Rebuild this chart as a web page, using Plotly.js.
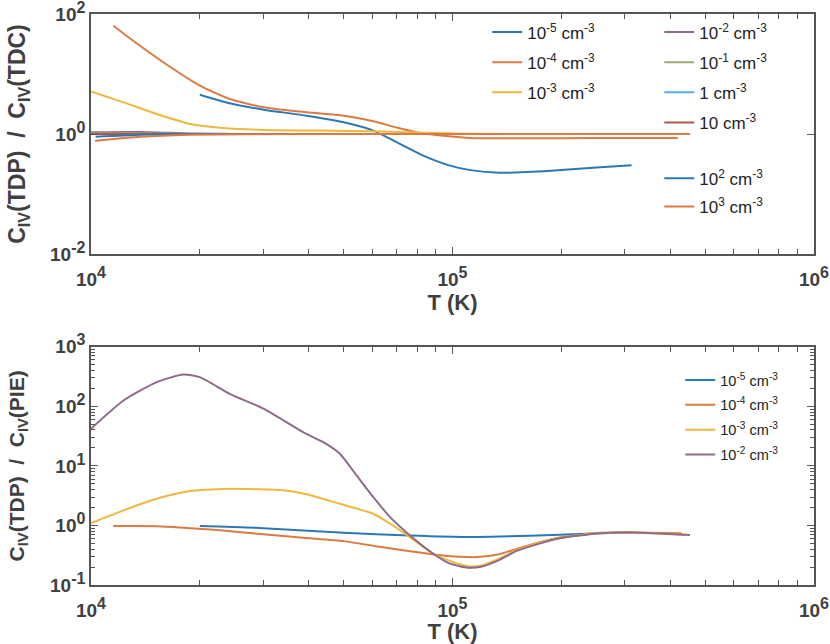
<!DOCTYPE html>
<html>
<head>
<meta charset="utf-8">
<script src="https://cdn.plot.ly/plotly-3.0.1.min.js"></script>
<style>
  html, body { margin: 0; padding: 0; background: #fff; }
  #chart { width: 830px; height: 644px; }
</style>
</head>
<body>
<div id="chart"></div>
<script>
/* ── Data: T (K) and ratio per density ── */

// top panel: C_IV(TDP) / C_IV(TDC)
const tdcT_m5 = [2e4, 2.42e4, 3e4, 3.95e4, 5e4, 6.04e4, 7e4, 8.3e4, 9.84e4, 1.12e5, 1.35e5, 1.6e5, 2e5, 2.5e5, 3.13e5];
const tdcR_m5 = [4.52, 3.25, 2.54, 2.02, 1.57, 1.14, 0.73, 0.435, 0.297, 0.25, 0.226, 0.232, 0.25, 0.277, 0.30];
const tdcT_m4 = [1.153e4, 1.366e4, 1.69e4, 2e4, 2.42e4, 3e4, 3.95e4, 5e4, 6.04e4, 7e4, 8.3e4, 1.12e5, 1.5e5, 2e5, 3e5, 4.2e5];
const tdcR_m4 = [63.8, 29.6, 12.1, 6.4, 3.83, 2.79, 2.3, 2.02, 1.63, 1.29, 1.02, 0.86, 0.85, 0.85, 0.86, 0.86];
const tdcT_m3 = [1.0e4, 1.23e4, 1.52e4, 1.88e4, 2.32e4, 3e4, 4.4e4, 6e4, 8.3e4, 1.1e5, 2e5, 4.4e5];
const tdcR_m3 = [5.1, 3.37, 2.15, 1.47, 1.26, 1.17, 1.14, 1.11, 1.05, 1.01, 1.0, 1.0];
const tdcT_m2 = [1e4, 1.37e4, 1.88e4, 2.6e4, 5e4, 1e5, 2e5, 4.5e5];
const tdcR_m2 = [1.07, 1.08, 1.02, 1.0, 1.0, 1.0, 1.0, 1.0];
const tdcT_m1 = [1e4, 1.5e4, 2e4, 5e4, 1e5, 2e5, 4.5e5];
const tdcR_m1 = [1.03, 1.02, 1.0, 1.0, 1.0, 1.0, 1.0];
const tdcT_0  = [1e4, 2e4, 5e4, 1e5, 2e5, 4.5e5];
const tdcR_0  = [1.0, 1.0, 1.0, 1.0, 1.0, 1.0];
const tdcT_1  = [1e4, 2e4, 5e4, 1e5, 2e5, 4.5e5];
const tdcR_1  = [1.0, 1.0, 1.0, 1.0, 1.0, 1.0];
const tdcT_2  = [1.03e4, 1.37e4, 1.88e4, 2.6e4, 5e4, 1e5, 2e5, 4.5e5];
const tdcR_2  = [0.90, 0.97, 1.0, 1.0, 1.0, 1.0, 1.0, 1.0];
const tdcT_3  = [1.026e4, 1.37e4, 1.88e4, 2.6e4, 5e4, 1e5, 2e5, 4.54e5];
const tdcR_3  = [0.77, 0.90, 0.97, 0.99, 1.0, 1.0, 1.0, 1.0];

// bottom panel: C_IV(TDP) / C_IV(PIE)
const pieT_m5 = [2e4, 3e4, 5e4, 7.6e4, 1.12e5, 1.35e5, 1.98e5, 2.56e5, 3.13e5];
const pieR_m5 = [0.975, 0.90, 0.75, 0.68, 0.64, 0.65, 0.70, 0.74, 0.77];
const pieT_m4 = [1.153e4, 1.52e4, 1.88e4, 2.32e4, 3e4, 3.86e4, 5e4, 6.43e4, 7.63e4, 8.85e4, 1.05e5, 1.17e5, 1.35e5, 1.5e5, 1.75e5, 1.98e5, 2.56e5, 3.16e5, 4.3e5];
const pieR_m4 = [0.975, 0.97, 0.90, 0.82, 0.71, 0.62, 0.545, 0.43, 0.37, 0.326, 0.297, 0.294, 0.33, 0.40, 0.53, 0.63, 0.75, 0.76, 0.74];
const pieT_m3 = [1e4, 1.23e4, 1.52e4, 1.88e4, 2.32e4, 2.87e4, 3.4e4, 3.95e4, 4.88e4, 6.04e4, 6.72e4, 7.46e4, 8.85e4, 1e5, 1.12e5, 1.2e5, 1.35e5, 1.5e5, 1.75e5, 1.98e5, 2.56e5, 3.16e5, 4.4e5];
const pieR_m3 = [1.09, 1.79, 2.8, 3.77, 4.1, 4.05, 3.9, 3.35, 2.31, 1.57, 1.07, 0.70, 0.335, 0.243, 0.205, 0.213, 0.28, 0.38, 0.52, 0.62, 0.745, 0.76, 0.70];
const pieT_m2 = [1e4, 1.23e4, 1.52e4, 1.8e4, 2e4, 2.42e4, 3e4, 3.86e4, 4.39e4, 4.88e4, 5.43e4, 6.04e4, 6.72e4, 7.63e4, 8.85e4, 9.84e4, 1.11e5, 1.2e5, 1.35e5, 1.5e5, 1.75e5, 1.98e5, 2.56e5, 3.16e5, 4.54e5];
const pieR_m2 = [42, 125, 254, 342, 309, 162, 91, 36.8, 25, 16, 6.9, 2.98, 1.38, 0.68, 0.335, 0.228, 0.195, 0.203, 0.265, 0.37, 0.50, 0.61, 0.74, 0.76, 0.69];

const densityLabels = [
  '10<sup>-5</sup> cm<sup>-3</sup>', '10<sup>-4</sup> cm<sup>-3</sup>', '10<sup>-3</sup> cm<sup>-3</sup>',
  '10<sup>-2</sup> cm<sup>-3</sup>', '10<sup>-1</sup> cm<sup>-3</sup>', '1 cm<sup>-3</sup>',
  '10 cm<sup>-3</sup>', '10<sup>2</sup> cm<sup>-3</sup>', '10<sup>3</sup> cm<sup>-3</sup>'
];
const lineColors = ['#2c78b4', '#dc7a42', '#eeb83e', '#8e6a8c', '#9aab78', '#58aee0', '#b0584a', '#2c78b4', '#dc7a42'];

/* ── Axis helpers ─────────────────────────────────────────── */
const AX = '#555555';
const TXT = '#404040';
const FAMILY = 'Liberation Sans, Arial, sans-serif';
const tickFont = { family: FAMILY, size: 19, weight: 'bold', color: TXT };
const pow10 = e => `10<sup><span style="font-size:16px">${e}</span></sup>`;

function minorDecades(lo, hi) {
  const v = [];
  for (let e = lo; e < hi; e++) for (let m = 2; m < 10; m++) v.push(m * Math.pow(10, e));
  return v;
}

function xAxis(anchor) {
  return {
    type: 'log', range: [4, 6], anchor: anchor,
    tickvals: [1e4, 1e5, 1e6], ticktext: [pow10(4), pow10(5), pow10(6)],
    ticks: 'inside', ticklen: 7, tickwidth: 1.2, tickcolor: AX,
    minor: { tickvals: minorDecades(4, 6), ticks: 'inside', ticklen: 5, tickwidth: 1.2, tickcolor: AX },
    showline: true, linecolor: AX, linewidth: 1.6, mirror: 'ticks',
    showgrid: false, zeroline: false, tickfont: tickFont,
    ticklabelstandoff: 7, ticklabeloverflow: 'allow',
    title: { text: 'T (K)', font: { family: FAMILY, size: 22, weight: 'bold', color: TXT }, standoff: 3 }
  };
}

function yAxis(domain, lo, hi, withMinor, titleText, titleSize, standoff) {
  const vals = [];
  for (let e = lo; e <= hi; e += (withMinor ? 1 : 2)) vals.push(Math.pow(10, e));
  const ax = {
    type: 'log', range: [lo, hi], domain: domain,
    tickvals: vals, ticktext: vals.map(v => pow10(Math.round(Math.log10(v)))),
    ticks: 'inside', ticklen: 7, tickwidth: 1.2, tickcolor: AX,
    showline: true, linecolor: AX, linewidth: 1.6, mirror: 'ticks',
    showgrid: false, zeroline: false, tickfont: tickFont,
    ticklabelstandoff: 0, ticklabeloverflow: 'allow',
    title: { text: titleText, font: { family: FAMILY, size: titleSize, weight: 'bold', color: TXT }, standoff: standoff }
  };
  if (withMinor) ax.minor = { tickvals: minorDecades(lo, hi), ticks: 'inside', ticklen: 4, tickwidth: 1.2, tickcolor: AX };
  return ax;
}

/* ── Traces ───────────────────────────────────────────────── */
function curve(T, R, i, xa, ya, legend) {
  return {
    x: T, y: R, xaxis: xa, yaxis: ya,
    type: 'scatter', mode: 'lines',
    name: densityLabels[i], legend: legend,
    legendgroup: legend + '-' + i,
    line: { color: lineColors[i], width: 2, shape: 'spline', smoothing: 0.6 },
    hovertemplate: densityLabels[i] + '<br>T=%{x:.3s} K: %{y:.3g}<extra></extra>'
  };
}

const topSets = [
  [tdcT_m5, tdcR_m5, 'legend'], [tdcT_m4, tdcR_m4, 'legend'], [tdcT_m3, tdcR_m3, 'legend'],
  [tdcT_m2, tdcR_m2, 'legend2'], [tdcT_m1, tdcR_m1, 'legend2'], [tdcT_0, tdcR_0, 'legend2'],
  [tdcT_1, tdcR_1, 'legend2'], [tdcT_2, tdcR_2, 'legend3'], [tdcT_3, tdcR_3, 'legend3']
];
const bottomSets = [[pieT_m5, pieR_m5], [pieT_m4, pieR_m4], [pieT_m3, pieR_m3], [pieT_m2, pieR_m2]];

const traces = [];
topSets.forEach((s, i) => traces.push(curve(s[0], s[1], i, 'x', 'y', s[2])));
bottomSets.forEach((s, i) => traces.push(curve(s[0], s[1], i, 'x2', 'y2', 'legend4')));

/* ── Layout ───────────────────────────────────────────────── */
const sp = '\u00a0';
const legendBase = {
  bgcolor: 'rgba(0,0,0,0)', borderwidth: 0, xanchor: 'left', yanchor: 'top',
  traceorder: 'grouped', tracegroupgap: 5,
  font: { family: FAMILY, size: 17, color: '#222' }
};

const layout = {
  width: 830, height: 644,
  margin: { l: 91, r: 16, t: 14, b: 59 },
  paper_bgcolor: '#fff', plot_bgcolor: '#fff',
  showlegend: true,
  xaxis: xAxis('y'),
  yaxis: yAxis([0.5797, 1], -2, 2, false, `C<sub>IV</sub>(TDP)${sp}${sp}/${sp}${sp}C<sub>IV</sub>(TDC)`, 23, 18),
  xaxis2: xAxis('y2'),
  yaxis2: yAxis([0, 0.4173], -1, 3, true, `C<sub>IV</sub>(TDP)${sp}${sp}/${sp}${sp}C<sub>IV</sub>(PIE)`, 21, 20),
  legend:  Object.assign({}, legendBase, { x: 0.548, y: 0.999 }),
  legend2: Object.assign({}, legendBase, { x: 0.786, y: 0.999 }),
  legend3: Object.assign({}, legendBase, { x: 0.786, y: 0.743, tracegroupgap: 3 }),
  legend4: Object.assign({}, legendBase, { x: 0.815, y: 0.387, tracegroupgap: 3,
    font: { family: FAMILY, size: 14.5, color: '#222' } })
};

Plotly.newPlot('chart', traces, layout, { displayModeBar: false, responsive: false });
</script>
</body>
</html>
